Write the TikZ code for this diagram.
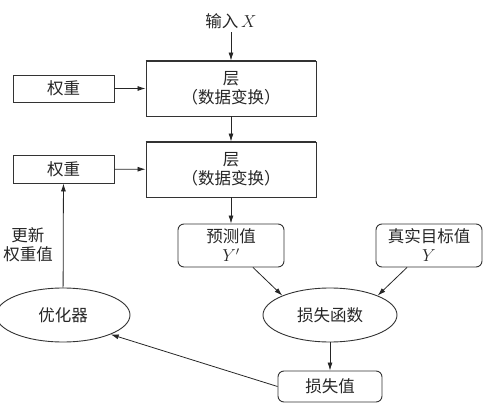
\documentclass[tikz,border=0pt]{standalone}
\usepackage{fontspec}
\newfontfamily\cjk{Noto Sans CJK SC}
\usetikzlibrary{arrows.meta,shapes.geometric}
\begin{document}
\begin{tikzpicture}[x=1pt,y=-1pt,
  every node/.style={font=\cjk\fontsize{16.5}{19}\selectfont, text=black!85},
  sqbox/.style={draw=black!80, line width=0.9pt, fill=white, inner sep=0pt},
  rbox/.style={draw=black!80, line width=0.9pt, fill=white, rounded corners=6pt, inner sep=0pt},
  ell/.style={draw=black!80, line width=0.9pt, ellipse, fill=white, inner sep=0pt},
  arr/.style={draw=black!85, line width=0.8pt, -{Latex[length=8pt,width=5pt]}}]
\useasboundingbox (0,0) rectangle (490,409);
% nodes
\node (in) at (231,21) {输入\,$X$};
\node[sqbox, minimum width=170pt, minimum height=55pt, align=center] (l1) at (231,88.5) {层\\（数据变换）};
\draw[black!80, line width=1.6pt] (l1.north west) -- (l1.north east);
\node[sqbox, minimum width=101pt, minimum height=27pt] (w1) at (63.5,88.5) {权重};
\node[sqbox, minimum width=170pt, minimum height=55pt, align=center] (l2) at (231,169.5) {层\\（数据变换）};
\draw[black!80, line width=1.6pt] (l2.north west) -- (l2.north east);
\node[sqbox, minimum width=101pt, minimum height=28pt] (w2) at (63.5,169) {权重};
\node[align=center] (upd) at (28,245) {更新\\权重值};
\node[rbox, minimum width=106pt, minimum height=43pt, align=center] (pred) at (231,245.5) {预测值\\$Y'$};
\node[rbox, minimum width=106pt, minimum height=43pt, align=center] (true) at (429,245.5) {真实目标值\\$Y$};
\node[ell, minimum width=134pt, minimum height=54pt] (loss) at (330,315) {损失函数};
\node[ell, minimum width=134pt, minimum height=54pt] (opt) at (63,315) {优化器};
\node[rbox, minimum width=104pt, minimum height=31pt] (lv) at (330,386.5) {损失值};
% connectors
\draw[arr] (in) -- (l1);
\draw[arr] (w1) -- (l1);
\draw[arr] (l1) -- (l2);
\draw[arr] (w2) -- (l2);
\draw[arr] (l2) -- (pred);
\draw[arr] (pred.south) ++(22,0) coordinate (ps) -- (loss.north west) ;
\draw[arr] (true.south) ++(-22,0) coordinate (ts) -- (loss.north east);
\draw[arr] (loss) -- (lv);
\draw[arr] (lv.west) -- (opt.south east);
\draw[arr] (opt) -- (w2);
\end{tikzpicture}
\end{document}
